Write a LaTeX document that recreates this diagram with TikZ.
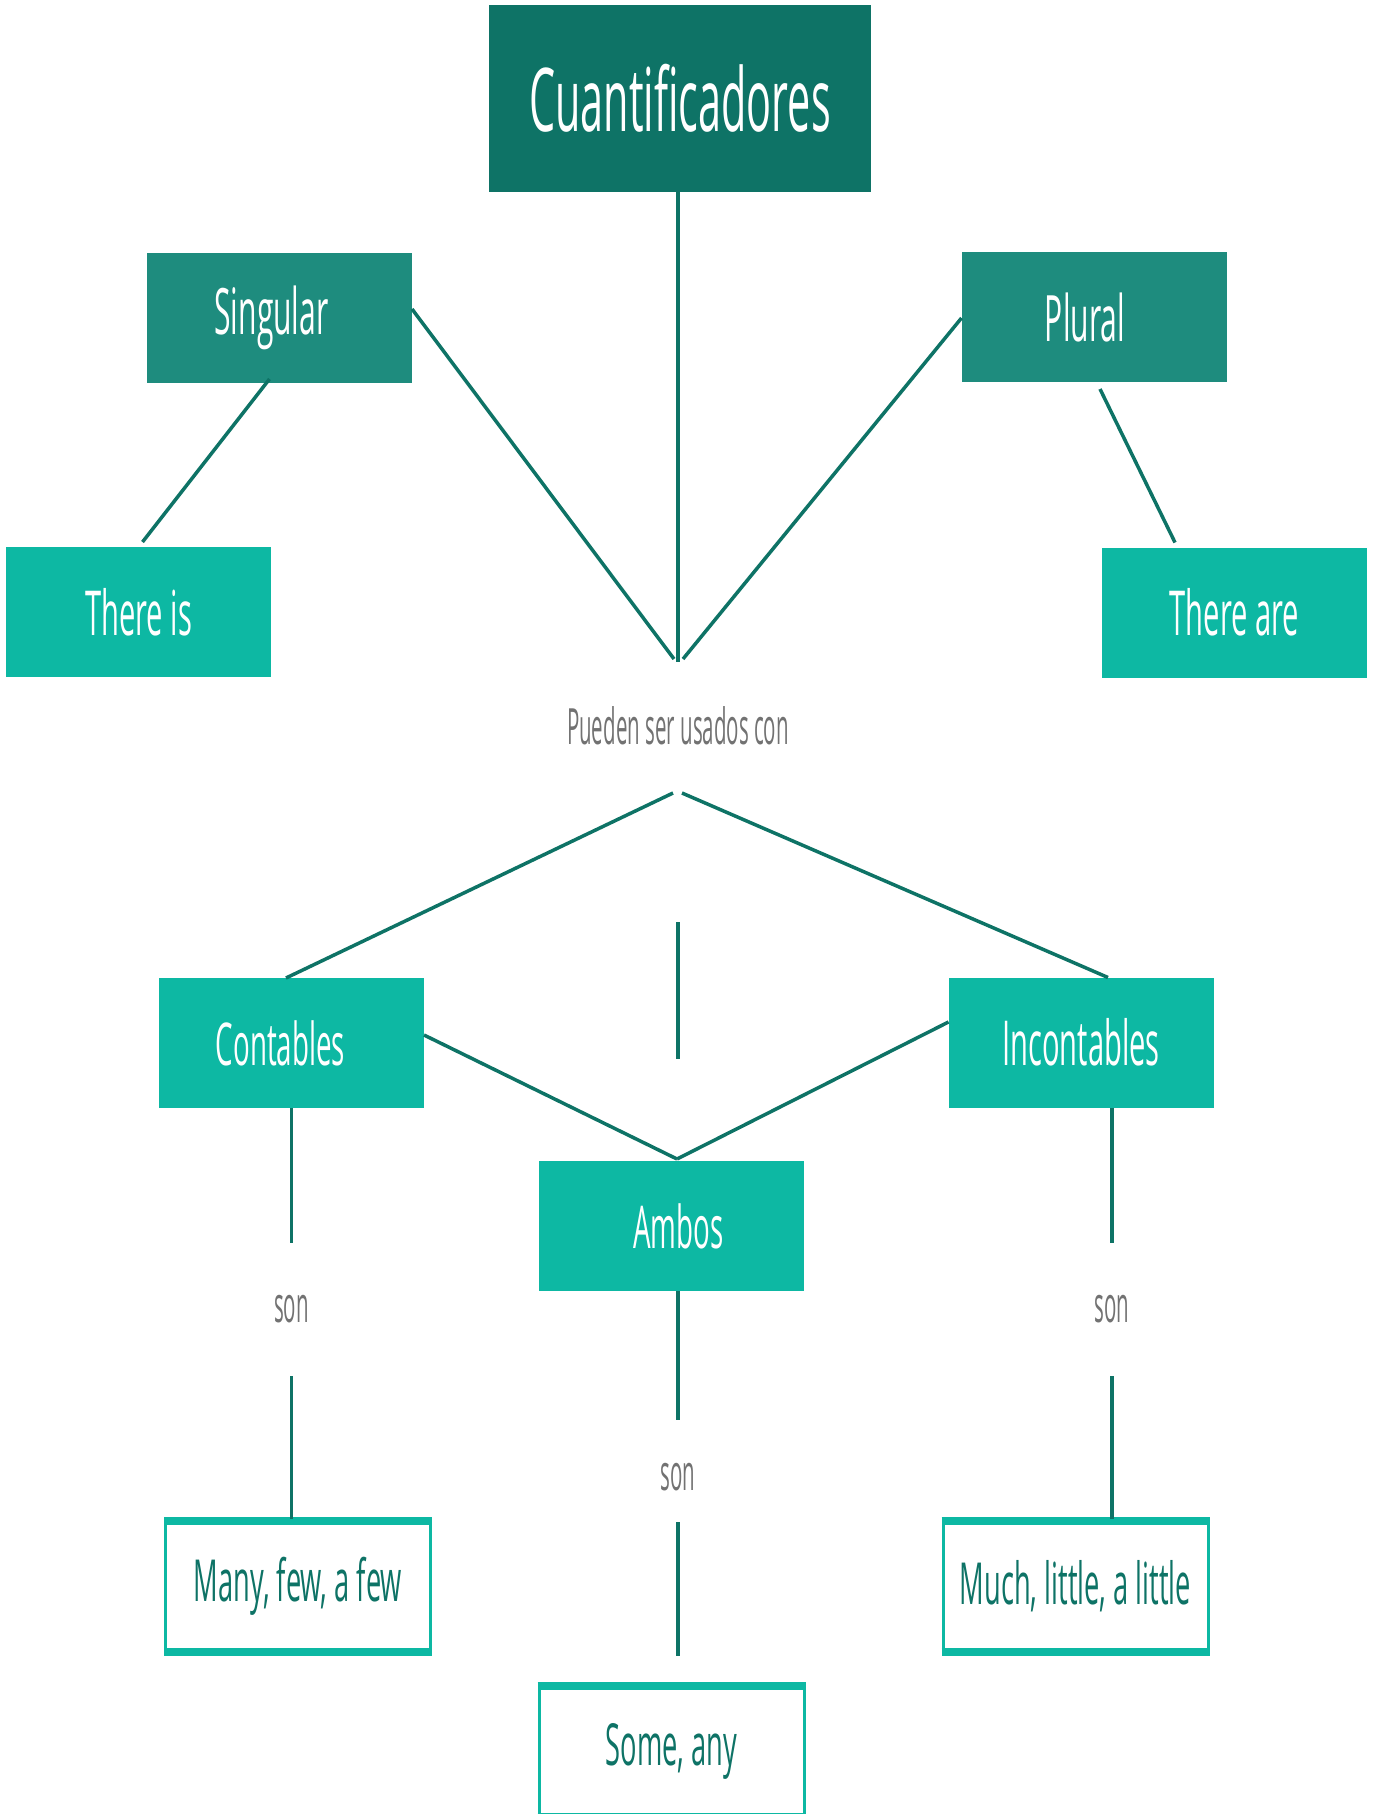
\documentclass[tikz,border=0pt]{standalone}
\usepackage{fontspec}
\setmainfont[FakeStretch=0.47]{Open Sans}
\newfontfamily\thinfont[FakeStretch=0.41]{Open Sans}
\definecolor{dk}{HTML}{0E7366}
\definecolor{md}{HTML}{1E8C7E}
\definecolor{br}{HTML}{0DB8A3}
\definecolor{gr}{HTML}{727272}
\newcommand{\shl}[2]{\hspace*{#1pt}#2\hspace*{-#1pt}}
\begin{document}
\begin{tikzpicture}[x=1pt,y=-1pt,
  every node/.style={inner sep=0pt, outer sep=0pt},
  lnk/.style={draw=dk, line width=3.5pt},
  topbox/.style={fill=dk, minimum width=382pt, minimum height=187pt, text=white, font=\fontsize{88}{100}\selectfont},
  midbox/.style={fill=md, minimum width=265pt, minimum height=130pt, text=white, font=\fontsize{64}{72}\selectfont},
  brbox/.style={fill=br, minimum width=265pt, minimum height=130pt, text=white, font=\fontsize{62}{72}\selectfont},
  wbox/.style={fill=white, draw=br, line width=3pt, minimum width=265pt, minimum height=136pt, text=dk, font=\fontsize{58}{66}\selectfont},
  lbl/.style={text=gr, font=\thinfont\fontsize{50}{60}\selectfont},
  bar/.style={draw=br, line width=8pt}]
\useasboundingbox (0,0) rectangle (1375,1814);
% nodes
\node[topbox] (cuant) at (680,98.5) {Cuantificadores};
\node[midbox] (sing) at (279.5,318) {\shl{-8}{Singular}};
\node[midbox] (plur) at (1094,317) {\shl{-9}{Plural}};
\node[brbox] (thereis) at (138.5,612) {There is};
\node[brbox] (thereare) at (1234.5,612.5) {There are};
\node[lbl] (pueden) at (678,726) {Pueden ser usados con};
\node[brbox] (cont) at (291.5,1043) {\shl{-11}{\fontsize{59}{70}\selectfont Contables}};
\node[brbox] (incont) at (1081,1042.5) {Incontables};
\node[brbox] (ambos) at (671.5,1226) {\shl{7}{\fontsize{59}{70}\selectfont Ambos}};
\node[lbl] (son1) at (291.5,1309) {son};
\node[lbl] (son2) at (678,1477) {son};
\node[lbl] (son3) at (1112,1309) {son};
\node[wbox] (many) at (298,1586.5) {Many, few, a few};
\node[wbox] (much) at (1075.5,1586.5) {Much, little, a little};
\node[wbox] (some) at (671.5,1751.5) {Some, any};
\foreach \b in {many,much,some}{
  \draw[bar] ([xshift=-1.5pt,yshift=-2.5pt]\b.north west) -- ([xshift=1.5pt,yshift=-2.5pt]\b.north east);
  \draw[bar] ([xshift=-1.5pt,yshift=2.5pt]\b.south west) -- ([xshift=1.5pt,yshift=2.5pt]\b.south east);
}
\coordinate (mid1) at (678,922);
\coordinate (mid2) at (678,1059);
% connectors
\draw[lnk] ([xshift=-2pt]cuant.south) -- ([yshift=64pt]pueden.center);
\draw[lnk] ([yshift=9pt]sing.east) -- ([xshift=-4pt,yshift=67pt]pueden.center);
\draw[lnk] ([yshift=-1pt]plur.west) -- ([xshift=5pt,yshift=67pt]pueden.center);
\draw[lnk] ([xshift=-10pt,yshift=4pt]sing.south) -- ([xshift=4pt,yshift=5pt]thereis.north);
\draw[lnk] ([xshift=6pt,yshift=-7pt]plur.south) -- ([xshift=-59.5pt,yshift=5pt]thereare.north);
\draw[lnk] ([xshift=-5pt,yshift=-67pt]pueden.center) -- ([xshift=-5.5pt]cont.north);
\draw[lnk] ([xshift=4pt,yshift=-67pt]pueden.center) -- ([xshift=27pt]incont.north);
\draw[lnk] (mid1) -- (mid2);
\draw[lnk] ([yshift=8pt]cont.east) -- ([xshift=5.5pt,yshift=2pt]ambos.north);
\draw[lnk] ([yshift=20.5pt]incont.west) -- ([xshift=5.5pt,yshift=2pt]ambos.north);
\draw[lnk] (cont.south) -- ([yshift=66pt]son1.center);
\draw[lnk] ([yshift=-67pt]son1.center) -- (son1.center |- many.north);
\draw[lnk] ([xshift=31pt]incont.south) -- ([yshift=66pt]son3.center);
\draw[lnk] ([yshift=-67pt]son3.center) -- (son3.center |- much.north);
\draw[lnk] ([xshift=6.5pt]ambos.south) -- ([yshift=57pt]son2.center);
\draw[lnk, shorten >=28pt] ([yshift=-45pt]son2.center) -- (son2.center |- some.north);
\end{tikzpicture}
\end{document}
